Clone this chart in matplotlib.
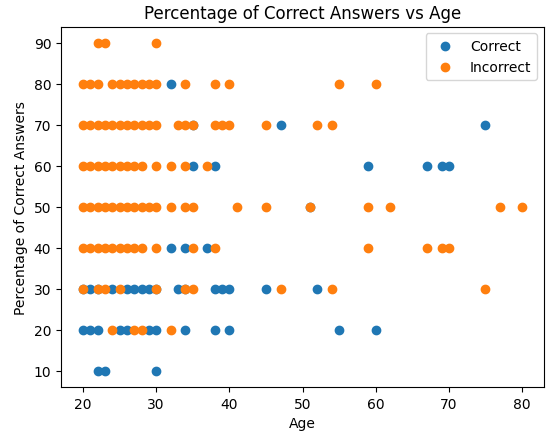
import matplotlib
matplotlib.use("Agg")
import matplotlib.pyplot as plt

# Correct answers (blue)
correct_age = [32,
               35, 47, 75,
               35, 38, 59, 67, 69, 70,
               51,
               32, 34, 37,
               20, 21, 22, 24, 26, 27, 28, 29, 30, 33, 34, 38, 39, 40, 45, 52,
               20, 21, 22, 25, 26, 29, 30, 34, 38, 40, 55, 60,
               22, 23, 30]
correct_pct = [80,
               70, 70, 70,
               60, 60, 60, 60, 60, 60,
               50,
               40, 40, 40,
               30, 30, 30, 30, 30, 30, 30, 30, 30, 30, 30, 30, 30, 30, 30, 30,
               20, 20, 20, 20, 20, 20, 20, 20, 20, 20, 20, 20,
               10, 10, 10]

# Incorrect answers (orange)
incorrect_age = [22, 23, 30,
                 20, 21, 22, 24, 25, 26, 27, 28, 29, 30, 34, 38, 40, 55, 60,
                 20, 21, 22, 23, 24, 25, 26, 27, 28, 29, 30, 33, 34, 35, 38, 39, 40, 45, 52, 54,
                 20, 21, 22, 23, 24, 25, 26, 27, 28, 30, 32, 34, 37,
                 20, 21, 22, 23, 24, 25, 26, 27, 28, 29, 30, 32, 34, 35, 41, 45, 51, 59, 62, 77, 80,
                 20, 21, 22, 23, 24, 25, 26, 27, 28, 30, 35, 38, 59, 67, 69, 70,
                 20, 22, 23, 25, 30, 34, 35, 47, 54, 75,
                 24, 27, 28, 32]
incorrect_pct = [90] * 3 + [80] * 15 + [70] * 20 + [60] * 13 + [50] * 21 + [40] * 16 + [30] * 10 + [20] * 4

fig = plt.figure(figsize=(5.48, 4.35), dpi=100)
ax = fig.add_axes([61 / 548, 1 - 388 / 435, 483 / 548, 360.5 / 435])

ax.scatter(correct_age, correct_pct, label='Correct')
ax.scatter(incorrect_age, incorrect_pct, label='Incorrect')

ax.set_xlabel('Age')
ax.set_ylabel('Percentage of Correct Answers')
ax.set_title('Percentage of Correct Answers vs Age')
ax.legend(loc='upper right')

fig.savefig('out.png', dpi=100)
